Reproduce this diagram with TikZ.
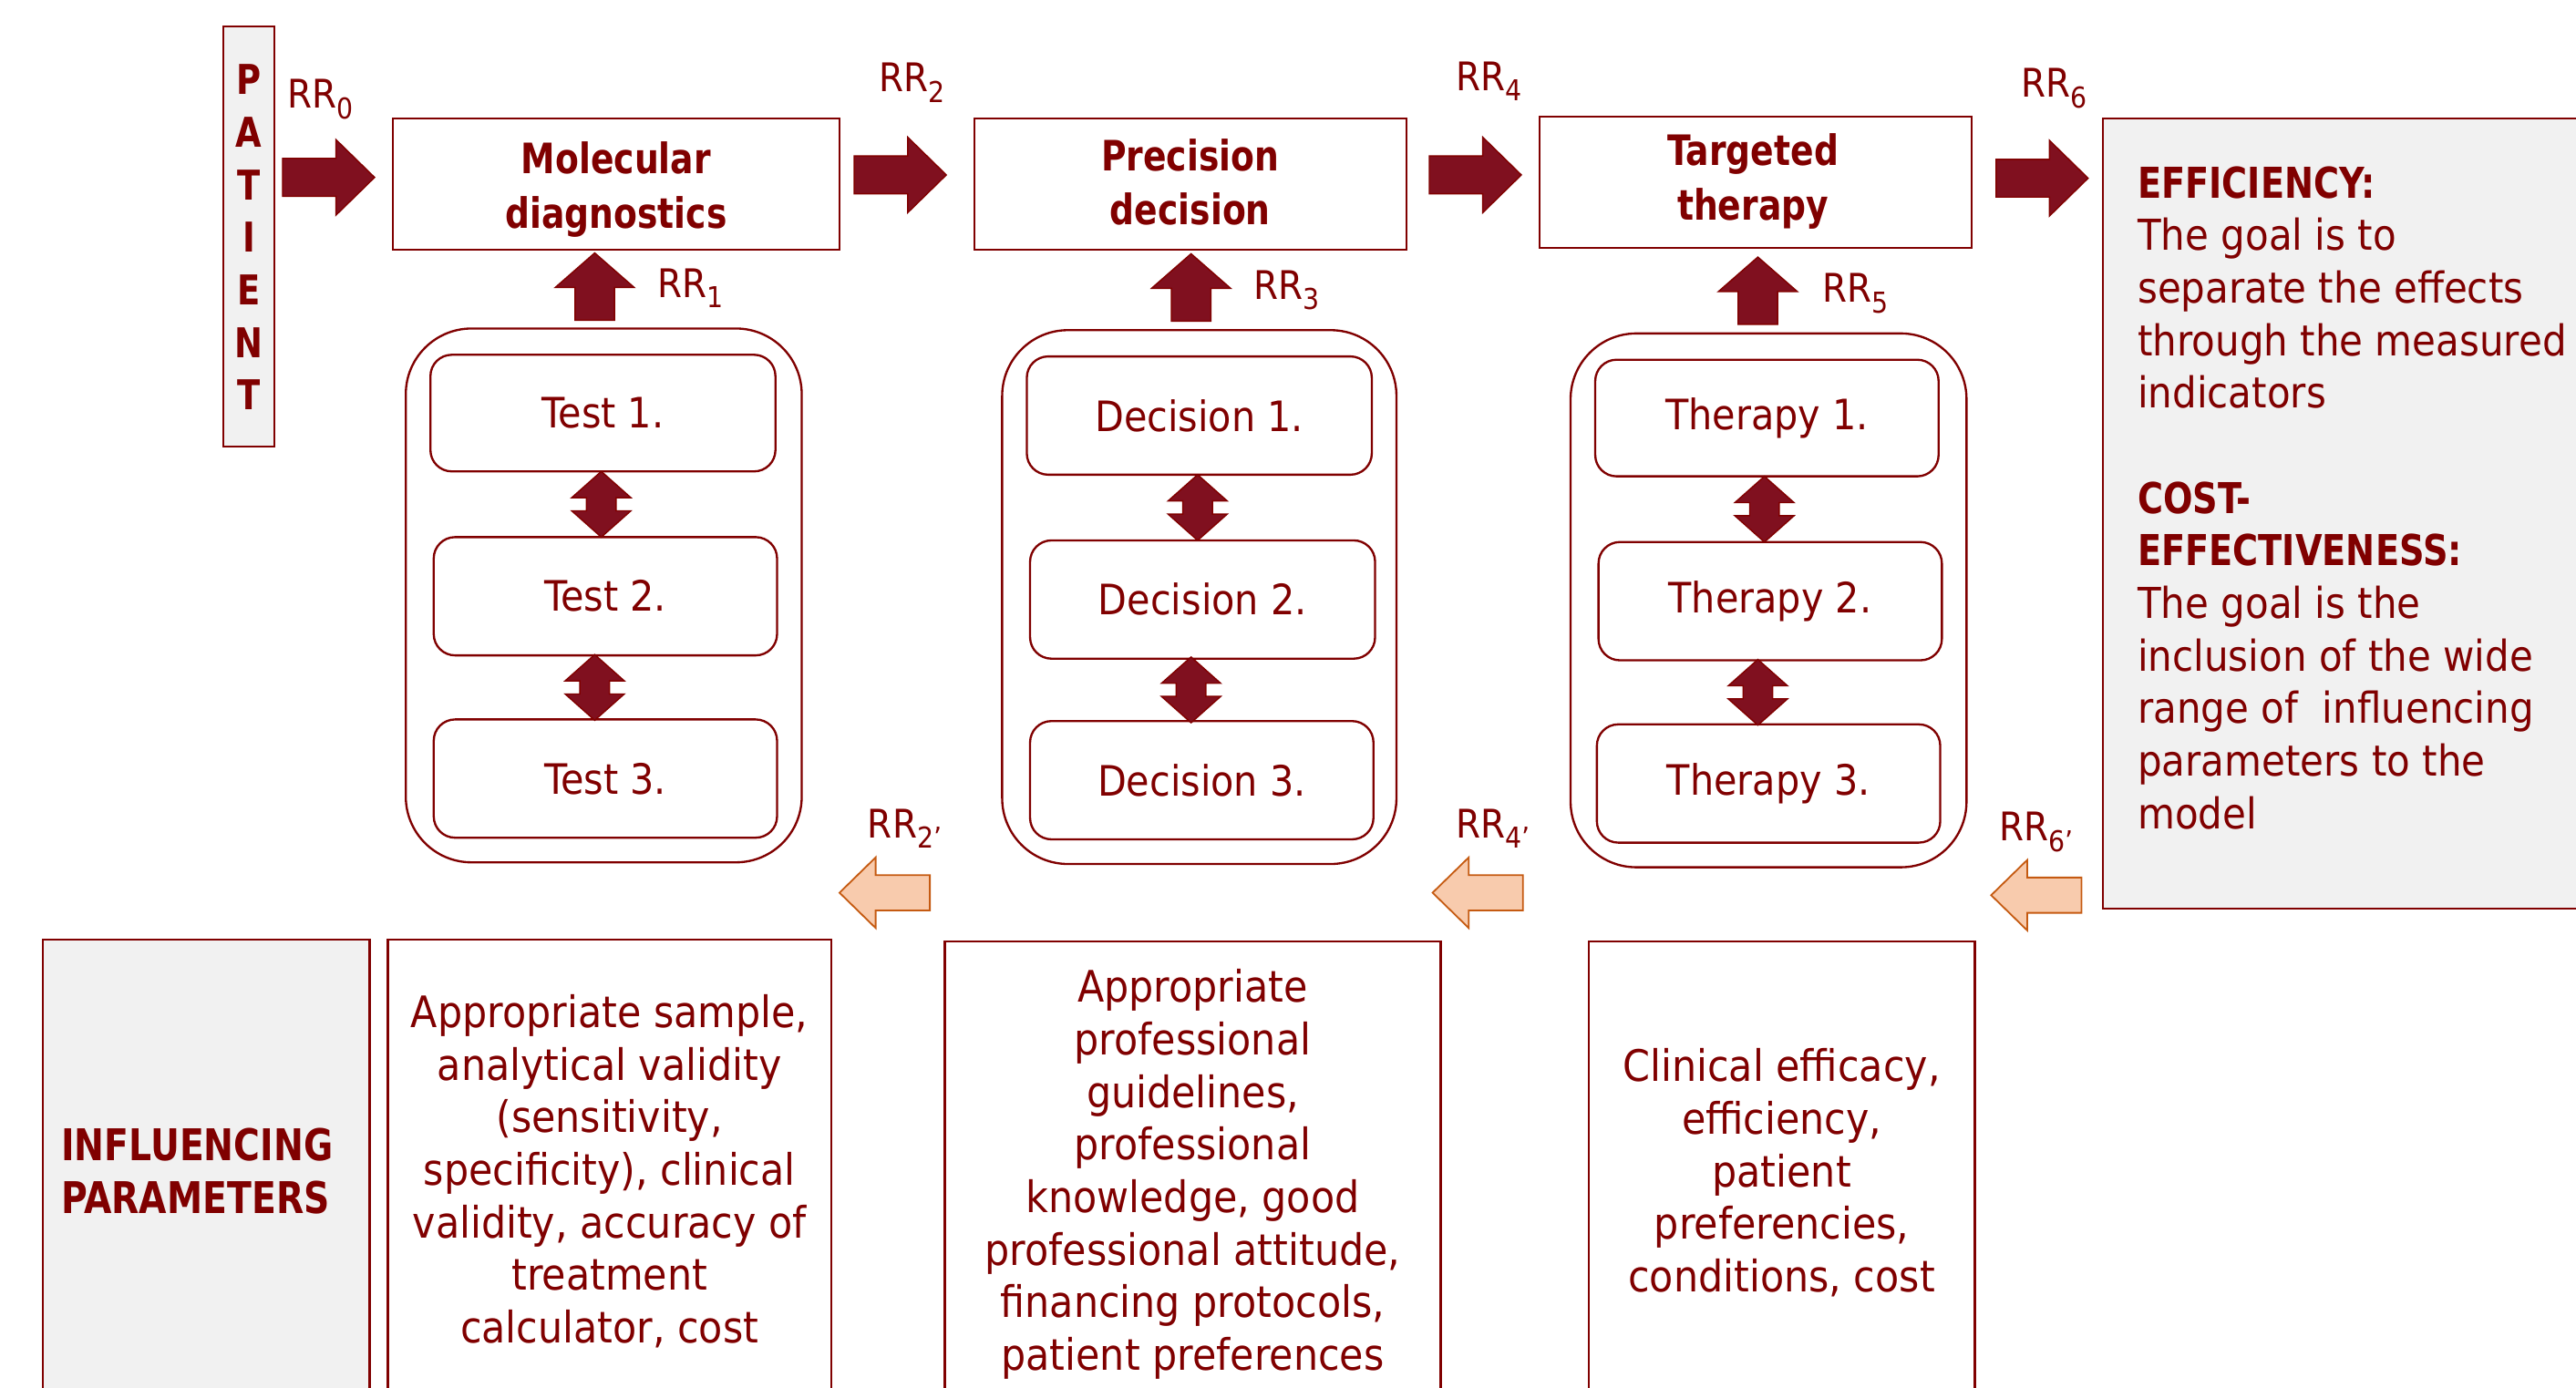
\documentclass[tikz,border=0pt]{standalone}
\usepackage{fontspec}
\setmainfont{DejaVu Sans}[FakeStretch=0.9]
\newfontfamily\boldf{DejaVu Sans}[FakeStretch=0.82]
\newcommand\rrsub[1]{\raisebox{-6.5pt}{\fontsize{17.5}{18}\selectfont #1}}
\definecolor{dred}{HTML}{800000}
\definecolor{afill}{HTML}{80101F}
\definecolor{ofill}{HTML}{F8CBAD}
\definecolor{oline}{HTML}{C55A11}
\definecolor{gfill}{HTML}{F1F1F1}
\begin{document}
\begin{tikzpicture}[x=1pt,y=-1pt,
  box/.style={draw=dred, line width=1.3pt, fill=white, inner sep=0pt, text=dred, align=center},
  gbox/.style={box, fill=gfill},
  outer/.style={draw=dred, line width=1.3pt, rounded corners=40pt, inner sep=0pt, minimum width=241pt, minimum height=325pt},
  inner/.style={box, rounded corners=13pt, minimum height=72pt, font=\fontsize{25.5}{30}\selectfont},
  title/.style={box, minimum height=80pt, font=\boldf\bfseries\fontsize{25.5}{33}\selectfont},
  ttxt/.style={text=dred, inner sep=0pt, align=center, font=\boldf\bfseries\fontsize{25.5}{33}\selectfont},
  txt/.style={text=dred, inner sep=0pt, align=center, font=\fontsize{26.4}{32}\selectfont},
  rrlab/.style={text=dred, inner sep=0pt, anchor=base west, font=\fontsize{24}{28}\selectfont},
  rarr/.pic={\filldraw[fill=afill, draw=dred, line width=0.8pt] (-28,-11.5) -- (4.5,-11.5) -- (4.5,-23) -- (28,0) -- (4.5,23) -- (4.5,11.5) -- (-28,11.5) -- cycle;},
  larr/.pic={\filldraw[fill=ofill, draw=oline, line width=1pt] (27.5,-10.75) -- (-5.5,-10.75) -- (-5.5,-21.5) -- (-27.5,0) -- (-5.5,21.5) -- (-5.5,10.75) -- (27.5,10.75) -- cycle;},
  uarr/.pic={\filldraw[fill=afill, draw=dred, line width=0.8pt] (-12,20.5) -- (-12,0.5) -- (-24,0.5) -- (0,-20.5) -- (24,0.5) -- (12,0.5) -- (12,20.5) -- cycle;},
  darr/.pic={\filldraw[fill=afill, draw=dred, line width=0.8pt] (0,-20) -- (18,-4) -- (9,-4) -- (9,4) -- (18,4) -- (0,20) -- (-18,4) -- (-9,4) -- (-9,-4) -- (-18,-4) -- cycle;}
]
\useasboundingbox (0,0) rectangle (1568,845);
\clip (0,0) rectangle (1568,845);
\fill[white] (0,0) rectangle (1568,845);

% patient
\node[gbox, minimum width=31pt, minimum height=256pt] (pat) at (151.5,144) {};
\node[text=dred, inner sep=0pt, align=center, font=\boldf\bfseries\fontsize{25}{32}\selectfont] (patt) at (151.5,144.5) {P\\A\\T\\I\\E\\N\\T};

% top boxes
\node[title, minimum width=272pt] (md) at (375,112) {};
\node[ttxt] (mdt) at (375,115.5) {Molecular\\diagnostics};
\node[title, minimum width=263pt] (pd) at (724.5,112) {};
\node[ttxt] (pdt) at (724.5,111) {Precision\\decision};
\node[title, minimum width=263pt] (tt) at (1068.5,111) {};
\node[ttxt] (ttt) at (1067,110.5) {Targeted\\therapy};

% right box
\node[gbox, minimum width=310pt, minimum height=481pt] (eff) at (1435,312.5) {};
\node[text=dred, inner sep=0pt, align=left, anchor=north west, font=\fontsize{25.9}{32}\selectfont] (efft) at (1301,101)
 {{\boldf\bfseries EFFICIENCY:}\\The goal is to\\separate the effects\\through the measured\\indicators\\[32pt]{\boldf\bfseries COST-}\\{\boldf\bfseries EFFECTIVENESS:}\\The goal is the\\inclusion of the wide\\range of\ \ influencing\\parameters to the\\model};

% right arrows
\pic at (200,108) {rarr};
\pic at (548,106.5) {rarr};
\pic at (898,106.5) {rarr};
\pic at (1243,108.5) {rarr};
% RR labels
\node[rrlab] (rr0) at (175,66) {RR\rrsub{0}};
\node[rrlab] (rr2) at (535,56) {RR\rrsub{2}};
\node[rrlab] (rr4) at (886,55) {RR\rrsub{4}};
\node[rrlab] (rr6) at (1230,59) {RR\rrsub{6}};
\node[rrlab] (rr1) at (400,181) {RR\rrsub{1}};
\node[rrlab] (rr3) at (763,182) {RR\rrsub{3}};
\node[rrlab] (rr5) at (1109,184) {RR\rrsub{5}};
\node[rrlab] (rr2p) at (528,510) {RR\rrsub{2’}};
\node[rrlab] (rr4p) at (886,510) {RR\rrsub{4’}};
\node[rrlab] (rr6p) at (1217,512) {RR\rrsub{6’}};

% up arrows
\pic at (362,174.5) {uarr};
\pic at (725,175) {uarr};
\pic at (1070,177) {uarr};

% containers
\node[outer] (c1) at (367.5,362.5) {};
\node[outer, minimum width=240pt] (c2) at (730,363.5) {};
\node[outer] (c3) at (1076.5,365.5) {};

\node[inner, minimum width=210pt, minimum height=71pt] (t1) at (367,251.5) {Test 1.};
\node[inner, minimum width=209pt] (t2) at (368.5,363) {Test 2.};
\node[inner, minimum width=209pt] (t3) at (368.5,474) {Test 3.};
\node[inner, minimum width=210pt] (d1) at (730,253) {Decision 1.};
\node[inner, minimum width=210pt] (d2) at (732,365) {Decision 2.};
\node[inner, minimum width=209pt] (d3) at (731.5,475) {Decision 3.};
\node[inner, minimum width=209pt, minimum height=71pt] (h1) at (1075.5,254.5) {Therapy 1.};
\node[inner, minimum width=209pt] (h2) at (1077.5,366) {Therapy 2.};
\node[inner, minimum width=209pt] (h3) at (1076.5,477) {Therapy 3.};

% double arrows
\pic at (366,307) {darr};
\pic at (362,418.5) {darr};
\pic at (729,309) {darr};
\pic at (725,420) {darr};
\pic at (1074,310) {darr};
\pic at (1070,421.5) {darr};

% orange arrows
\pic at (538.5,543.5) {larr};
\pic at (899.5,543.5) {larr};
\pic at (1239.5,545) {larr};

% bottom boxes
\node[gbox, minimum width=199pt, minimum height=300pt] (b1) at (125.5,722) {};
\node[box, minimum width=270pt, minimum height=300pt] (b2) at (371,722) {};
\node[box, minimum width=302pt, minimum height=300pt] (b3) at (726,723) {};
\node[box, minimum width=235pt, minimum height=300pt] (b4) at (1084.5,723) {};

\node[text=dred, inner sep=0pt, align=left, anchor=west, font=\boldf\bfseries\fontsize{26.6}{32}\selectfont] (b1t) at (37,713) {INFLUENCING\\PARAMETERS};
\node[txt] (b2t) at (371,713) {Appropriate sample,\\analytical validity\\(sensitivity,\\specificity), clinical\\validity, accuracy of\\treatment\\calculator, cost};
\node[txt] (b3t) at (726,715) {Appropriate\\professional\\guidelines,\\professional\\knowledge, good\\professional attitude,\\financing protocols,\\patient preferences};
\node[txt] (b4t) at (1084.5,714) {Clinical efficacy,\\efficiency,\\patient\\preferencies,\\conditions, cost};
\end{tikzpicture}
\end{document}
